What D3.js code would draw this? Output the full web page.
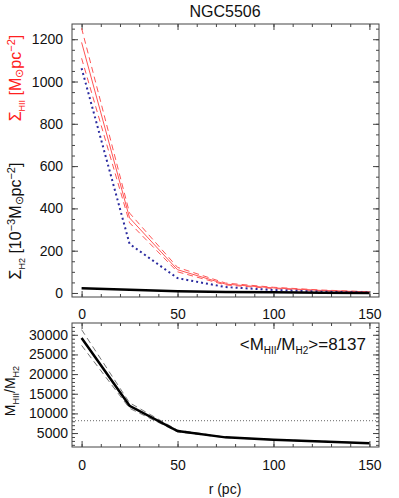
<!DOCTYPE html>
<html>
<head>
<meta charset="utf-8">
<script src="https://cdn.jsdelivr.net/npm/d3@7"></script>
<style>
  body { margin: 0; background: #fff; }
  text { font-family: "Liberation Sans", Arial, sans-serif; }
</style>
</head>
<body>
<svg id="chart" width="399" height="498"></svg>
<script>
// radius of each annulus (pc)
const radius = [0, 25, 50, 75, 100, 125, 150];

// top panel
const sigmaHII   = [1185, 355, 110, 42, 24, 12, 5];
const sigmaHIIHi = [1252, 378, 121, 47, 27, 14, 6];
const sigmaHIILo = [1110, 332, 100, 38, 21, 10, 4];
const sigmaH2dot = [1063, 232, 70, 28, 14, 6, 2];
const sigmaH2    = [22, 15, 8, 5, 3, 1, 0];

// bottom panel
const ratio   = [29200, 11950, 5500, 3900, 3300, 2880, 2400];
const ratioHi = [31300, 12700, 5750, 3980, 3360, 2930, 2450];
const ratioLo = [27300, 11300, 5300, 3830, 3250, 2840, 2360];
const meanRatio = 8137;

const topYTicks = [0, 200, 400, 600, 800, 1000, 1200];
const botYTicks = [5000, 10000, 15000, 20000, 25000, 30000];
const xTicks = [0, 50, 100, 150];

const svg = d3.select("#chart");
const axisCol = "#444";

const x = d3.scaleLinear().domain([-5, 155]).range([72, 379]);
const yTop = d3.scaleLinear().domain([-19, 1272]).range([297, 24]);
const yBot = d3.scaleLinear().domain([1450, 33000]).range([447, 323]);

// draws the box plus inward major / minor ticks on all four sides
function frame(y, yMajor, yMinorStep, xLabels, yPad, xPad) {
    const [x0, x1] = x.range();
    const [y0, y1] = y.range();
    const xMinor = d3.range(0, 151, 10);
    const yMinor = d3.range(Math.ceil(y.domain()[0] / yMinorStep) * yMinorStep, y.domain()[1], yMinorStep);

    const sides = [
        { ax: d3.axisBottom, pos: `translate(0,${y0})`, sc: x, major: xTicks, minor: xMinor, lab: xLabels },
        { ax: d3.axisTop, pos: `translate(0,${y1})`, sc: x, major: xTicks, minor: xMinor, lab: false },
        { ax: d3.axisLeft, pos: `translate(${x0},0)`, sc: y, major: yMajor, minor: yMinor, lab: true },
        { ax: d3.axisRight, pos: `translate(${x1},0)`, sc: y, major: yMajor, minor: yMinor, lab: false }
    ];
    sides.forEach(s => {
        const g1 = svg.append("g").attr("transform", s.pos)
            .call(s.ax(s.sc).tickValues(s.minor).tickSizeInner(-3).tickSizeOuter(0).tickFormat(""));
        g1.select(".domain").remove();
        g1.selectAll("line").attr("stroke", axisCol);
        const isX = s.sc === x;
        const g2 = svg.append("g").attr("transform", s.pos)
            .call(s.ax(s.sc).tickValues(s.major).tickSizeInner(-6).tickSizeOuter(0)
                .tickPadding(isX ? xPad : yPad)
                .tickFormat(s.lab ? d3.format("d") : ""));
        g2.select(".domain").remove();
        g2.selectAll("line").attr("stroke", axisCol);
        g2.selectAll("text").attr("font-size", 14).attr("fill", "#111")
            .attr("font-family", "Liberation Sans, Arial, sans-serif");
    });
    svg.append("rect").attr("x", x0).attr("y", y1).attr("width", x1 - x0).attr("height", y0 - y1)
        .attr("fill", "none").attr("stroke", axisCol).attr("stroke-width", 1);
}

frame(yTop, topYTicks, 50, true, 9, 12);
frame(yBot, botYTicks, 1000, true, 4, 13);

// top panel curves
const lineTop = vals => d3.line().x((d, i) => x(radius[i])).y(d => yTop(d))(vals);
const lineBot = vals => d3.line().x((d, i) => x(radius[i])).y(d => yBot(d))(vals);

[sigmaHIIHi, sigmaHIILo].forEach(v => {
    svg.append("path").attr("d", lineTop(v)).attr("fill", "none")
        .attr("stroke", "#ff5555").attr("stroke-width", 1).attr("stroke-dasharray", "6,4");
});
svg.append("path").attr("d", lineTop(sigmaHII)).attr("fill", "none")
    .attr("stroke", "#ff5555").attr("stroke-width", 1);
svg.append("path").attr("d", lineTop(sigmaH2dot)).attr("fill", "none")
    .attr("stroke", "#2b2ba0").attr("stroke-width", 2).attr("stroke-dasharray", "2,3");
svg.append("path").attr("d", lineTop(sigmaH2)).attr("fill", "none")
    .attr("stroke", "#000").attr("stroke-width", 2.5);

// bottom panel curves
svg.append("line").attr("x1", x.range()[0]).attr("x2", x.range()[1])
    .attr("y1", yBot(meanRatio)).attr("y2", yBot(meanRatio))
    .attr("stroke", "#666").attr("stroke-width", 1).attr("stroke-dasharray", "1,2");
[ratioHi, ratioLo].forEach(v => {
    svg.append("path").attr("d", lineBot(v)).attr("fill", "none")
        .attr("stroke", "#777").attr("stroke-width", 1).attr("stroke-dasharray", "6,4");
});
svg.append("path").attr("d", lineBot(ratio)).attr("fill", "none")
    .attr("stroke", "#000").attr("stroke-width", 2.5);

// text
svg.append("text").attr("x", 225).attr("y", 17).attr("text-anchor", "middle")
    .attr("font-size", 16).attr("fill", "#111").text("NGC5506");

const ann = svg.append("text").attr("x", 366).attr("y", 350).attr("text-anchor", "end")
    .attr("font-size", 17).attr("fill", "#111");
ann.append("tspan").text("<M");
ann.append("tspan").attr("font-size", 10).attr("dy", 4).text("HII");
ann.append("tspan").attr("dy", -4).text("/M");
ann.append("tspan").attr("font-size", 10).attr("dy", 4).text("H2");
ann.append("tspan").attr("dy", -4).text(">=" + meanRatio);

svg.append("text").attr("x", 225).attr("y", 494).attr("text-anchor", "middle")
    .attr("font-size", 14).attr("fill", "#111").text("r (pc)");

// rotated y labels
const redLab = svg.append("text").attr("transform", "translate(21,78) rotate(-90)")
    .attr("text-anchor", "middle").attr("font-size", 16).attr("fill", "#ff2020");
redLab.append("tspan").text("Σ");
redLab.append("tspan").attr("font-size", 9).attr("dy", 4).text("HII");
redLab.append("tspan").attr("dy", -4).text(" [M");
redLab.append("tspan").attr("font-size", 11).attr("dy", 2).text("⊙");
redLab.append("tspan").attr("dy", -2).text("pc");
redLab.append("tspan").attr("font-size", 11).attr("dy", -6).text("−2");
redLab.append("tspan").attr("dy", 6).text("]");

const blkLab = svg.append("text").attr("transform", "translate(21,221) rotate(-90)")
    .attr("text-anchor", "middle").attr("font-size", 16).attr("fill", "#111");
blkLab.append("tspan").text("Σ");
blkLab.append("tspan").attr("font-size", 9).attr("dy", 4).text("H2");
blkLab.append("tspan").attr("dy", -4).text(" [10");
blkLab.append("tspan").attr("font-size", 11).attr("dy", -6).text("−3");
blkLab.append("tspan").attr("dy", 6).text("M");
blkLab.append("tspan").attr("font-size", 11).attr("dy", 2).text("⊙");
blkLab.append("tspan").attr("dy", -2).text("pc");
blkLab.append("tspan").attr("font-size", 11).attr("dy", -6).text("−2");
blkLab.append("tspan").attr("dy", 6).text("]");

const botLab = svg.append("text").attr("transform", "translate(15,391) rotate(-90)")
    .attr("text-anchor", "middle").attr("font-size", 14).attr("fill", "#111");
botLab.append("tspan").text("M");
botLab.append("tspan").attr("font-size", 9).attr("dy", 4).text("HII");
botLab.append("tspan").attr("dy", -4).text("/M");
botLab.append("tspan").attr("font-size", 9).attr("dy", 4).text("H2");
</script>
</body>
</html>
